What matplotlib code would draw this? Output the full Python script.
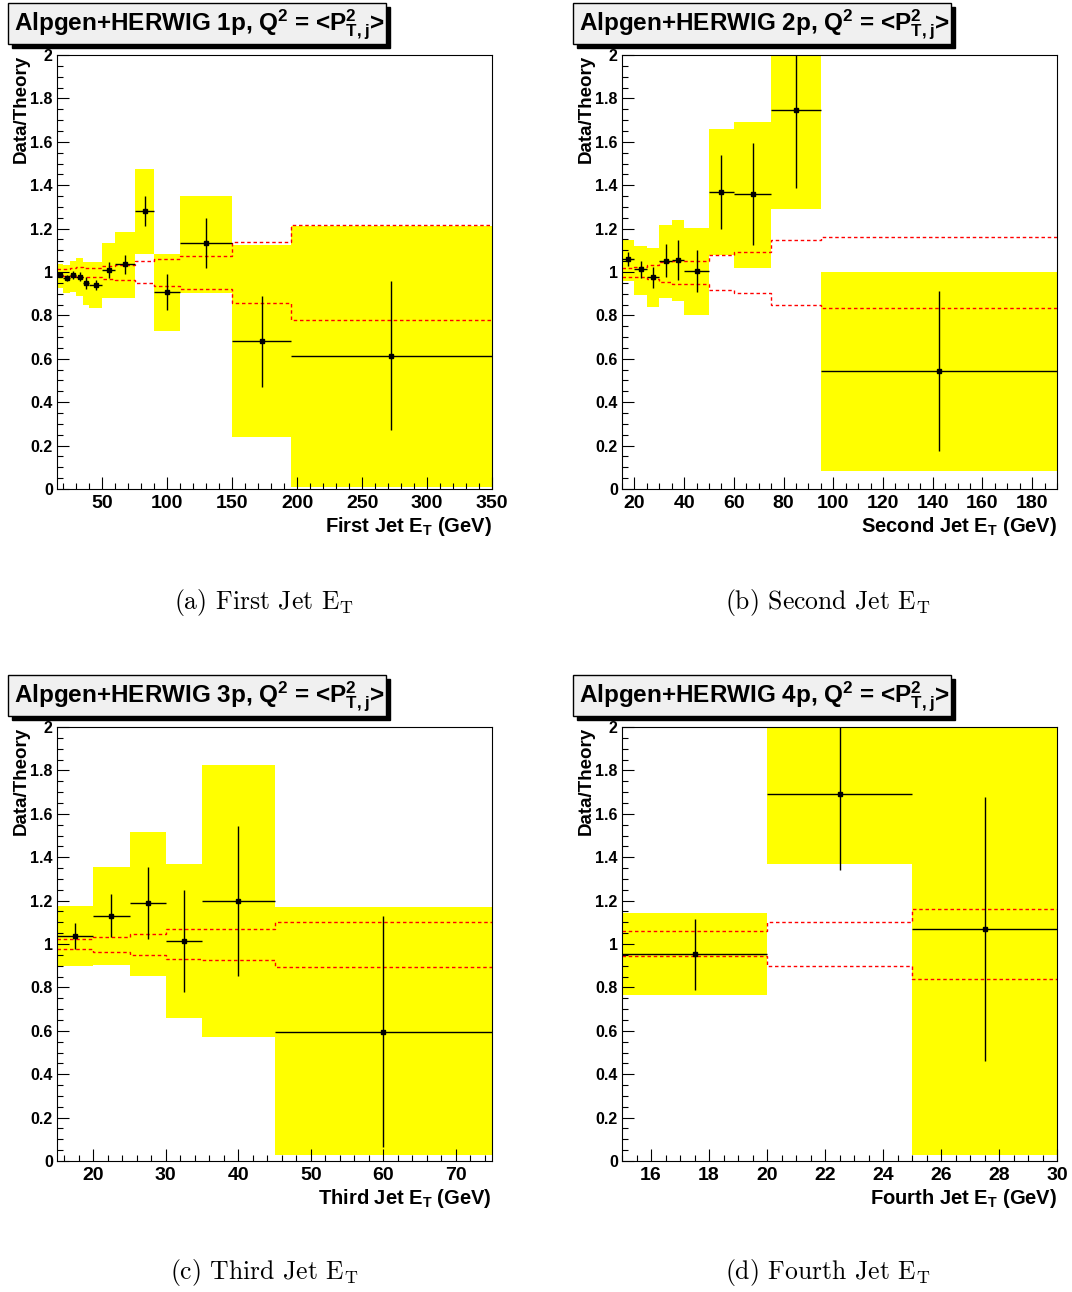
import numpy as np
import matplotlib
matplotlib.use("Agg")
import matplotlib.pyplot as plt
from matplotlib.patches import Rectangle
from matplotlib.ticker import MultipleLocator, FuncFormatter

plt.rcParams["font.family"] = "Liberation Sans"
plt.rcParams["font.weight"] = "bold"
plt.rcParams["mathtext.fontset"] = "custom"
plt.rcParams["mathtext.rm"] = "Liberation Sans:bold"
plt.rcParams["mathtext.it"] = "Liberation Sans:bold"
plt.rcParams["mathtext.bf"] = "Liberation Sans:bold"

# =========================
# Data
# =========================
# first jet
edges_1 = [15, 20, 25, 30, 35, 40, 50, 60, 75, 90, 110, 150, 195, 350]
ratio_1 = [0.986, 0.972, 0.986, 0.978, 0.951, 0.942, 1.009, 1.035, 1.281, 0.909, 1.132, 0.68, 0.615]
stat_1 = [0.008, 0.012, 0.02, 0.02, 0.028, 0.023, 0.037, 0.045, 0.069, 0.083, 0.115, 0.21, 0.345]
sys_hi_1 = [1.037, 1.032, 1.051, 1.063, 1.045, 1.045, 1.134, 1.186, 1.475, 1.083, 1.352, 1.124, 1.212]
sys_lo_1 = [0.925, 0.905, 0.909, 0.891, 0.848, 0.836, 0.882, 0.882, 1.083, 0.728, 0.905, 0.24, 0.01]
theo_hi_1 = [1.012, 1.012, 1.018, 1.023, 1.02, 1.02, 1.029, 1.032, 1.051, 1.06, 1.075, 1.14, 1.217]
theo_lo_1 = [0.986, 0.983, 0.982, 0.979, 0.975, 0.975, 0.969, 0.963, 0.948, 0.935, 0.922, 0.856, 0.779]

# second jet
edges_2 = [15, 20, 25, 30, 35, 40, 50, 60, 75, 95, 190]
ratio_2 = [1.058, 1.012, 0.975, 1.052, 1.055, 1.005, 1.367, 1.358, 1.747, 0.544]
stat_2 = [0.032, 0.038, 0.05, 0.075, 0.094, 0.096, 0.17, 0.235, 0.36, 0.37]
sys_hi_2 = [1.147, 1.118, 1.109, 1.216, 1.239, 1.204, 1.659, 1.691, 2.1, 1.0]
sys_lo_2 = [0.96, 0.894, 0.841, 0.882, 0.866, 0.8, 1.078, 1.02, 1.29, 0.083]
theo_hi_2 = [1.017, 1.022, 1.032, 1.045, 1.052, 1.052, 1.077, 1.094, 1.146, 1.16]
theo_lo_2 = [0.978, 0.975, 0.97, 0.955, 0.943, 0.944, 0.917, 0.902, 0.849, 0.836]

# third jet
edges_3 = [15, 20, 25, 30, 35, 45, 75]
ratio_3 = [1.038, 1.13, 1.187, 1.015, 1.198, 0.595]
stat_3 = [0.061, 0.1, 0.166, 0.236, 0.345, 0.532]
sys_hi_3 = [1.175, 1.353, 1.516, 1.368, 1.825, 1.169]
sys_lo_3 = [0.9, 0.903, 0.854, 0.66, 0.571, 0.028]
theo_hi_3 = [1.021, 1.031, 1.046, 1.068, 1.069, 1.1]
theo_lo_3 = [0.977, 0.964, 0.949, 0.929, 0.926, 0.896]

# fourth jet
edges_4 = [15, 20, 25, 30]
ratio_4 = [0.952, 1.691, 1.069]
stat_4 = [0.165, 0.35, 0.61]
sys_hi_4 = [1.143, 2.1, 2.1]
sys_lo_4 = [0.765, 1.369, 0.028]
theo_hi_4 = [1.06, 1.101, 1.161]
theo_lo_4 = [0.945, 0.899, 0.839]

titles = ["Alpgen+HERWIG 1p", "Alpgen+HERWIG 2p", "Alpgen+HERWIG 3p", "Alpgen+HERWIG 4p"]
xlabels = ["First Jet", "Second Jet", "Third Jet", "Fourth Jet"]
captions = ["(a) First Jet", "(b) Second Jet", "(c) Third Jet", "(d) Fourth Jet"]
xmax = [350, 190, 75, 30]
xmajor = [50, 20, 10, 2]
xminor = [10, 5, 2, 0.5]

panels = [
    (edges_1, ratio_1, stat_1, sys_hi_1, sys_lo_1, theo_hi_1, theo_lo_1),
    (edges_2, ratio_2, stat_2, sys_hi_2, sys_lo_2, theo_hi_2, theo_lo_2),
    (edges_3, ratio_3, stat_3, sys_hi_3, sys_lo_3, theo_hi_3, theo_lo_3),
    (edges_4, ratio_4, stat_4, sys_hi_4, sys_lo_4, theo_hi_4, theo_lo_4),
]

W, H = 1072, 1292
fig = plt.figure(figsize=(W / 100, H / 100), dpi=100)

# axes boxes in pixels (left, top)
origins = [(57, 55), (622, 55), (57, 727), (622, 727)]
aw, ah = 435, 434

for i, (edges, ratio, stat, hi, lo, thi, tlo) in enumerate(panels):
    x0, y0 = origins[i]
    ax = fig.add_axes([x0 / W, 1 - (y0 + ah) / H, aw / W, ah / H])

    edges = np.array(edges, dtype=float)
    centers = 0.5 * (edges[1:] + edges[:-1])
    widths = edges[1:] - edges[:-1]
    hi = np.array(hi)
    lo = np.array(lo)

    ax.bar(centers, hi - lo, bottom=lo, width=widths, color="#ffff00", lw=0, zorder=1)
    ax.stairs(thi, edges, baseline=None, color="red", ls=(0, (2.5, 2)), lw=1, zorder=2)
    ax.stairs(tlo, edges, baseline=None, color="red", ls=(0, (2.5, 2)), lw=1, zorder=2)
    ax.errorbar(centers, ratio, xerr=widths / 2, yerr=stat, fmt="s", ms=2.2,
                color="black", lw=1, capsize=0, zorder=3)

    ax.set_xlim(15, xmax[i])
    ax.set_ylim(0, 2)
    ax.xaxis.set_major_locator(MultipleLocator(xmajor[i]))
    ax.xaxis.set_minor_locator(MultipleLocator(xminor[i]))
    ax.yaxis.set_major_locator(MultipleLocator(0.2))
    ax.yaxis.set_minor_locator(MultipleLocator(0.05))
    ax.yaxis.set_major_formatter(FuncFormatter(lambda v, p: f"{v:g}"))
    ax.xaxis.set_major_formatter(FuncFormatter(lambda v, p: f"{v:g}"))
    ax.tick_params(which="both", direction="in", top=False, right=False, width=0.8)
    ax.tick_params(which="major", length=8.5)
    ax.tick_params(which="minor", length=4.3)
    ax.tick_params(axis="y", labelsize=11.5, pad=3)
    ax.tick_params(axis="x", labelsize=14, pad=4.5)
    for s in ax.spines.values():
        s.set_linewidth(0.8)

    ax.text(1.0, -0.06, xlabels[i] + r" E$_{\mathrm{T}}$ (GeV)", transform=ax.transAxes,
            ha="right", va="top", fontsize=14.5, fontweight="bold")
    fig.text((x0 - 36) / W, 1 - y0 / H, "Data/Theory", rotation=90, ha="center",
             va="top", fontsize=13.5, fontweight="bold")

    # title box with shadow
    bx, by = x0 - 49, y0 - 52
    bw, bh = 378, 41
    fig.patches.append(Rectangle(((bx + 4) / W, 1 - (by + bh + 4) / H), bw / W, bh / H,
                                 transform=fig.transFigure, color="black", zorder=5))
    fig.patches.append(Rectangle((bx / W, 1 - (by + bh) / H), bw / W, bh / H,
                                 transform=fig.transFigure, facecolor="#f0f0f0",
                                 edgecolor="black", lw=1, zorder=6))
    fig.text((bx + 6) / W, 1 - (by + bh / 2 + 1) / H,
             titles[i] + r", Q$^{2}$ = <P$^{2}_{\mathrm{T,j}}$>",
             ha="left", va="center", fontsize=17.5, fontweight="bold", zorder=7)

    # subfigure caption
    cx = [264, 828][i % 2]
    cy = [602, 1273][i // 2]
    fig.text(cx / W, 1 - cy / H, captions[i] + r" E$_\mathrm{T}$", ha="center", va="center",
             fontsize=18.5, fontfamily="cmr10", math_fontfamily="cm", fontweight="normal")

fig.savefig("out.png", dpi=100)
